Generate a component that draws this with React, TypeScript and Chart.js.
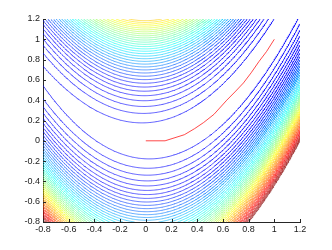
import React, { useEffect, useRef } from 'react';
import { Chart, registerables } from 'chart.js';

Chart.register(...registerables);

// Axis ranges and tick labels
const X_MIN = -0.8;
const X_MAX = 1.2;
const Y_MIN = -0.8;
const Y_MAX = 1.2;
const X_TICKS = [-0.8, -0.6, -0.4, -0.2, 0, 0.2, 0.4, 0.6, 0.8, 1, 1.2];
const Y_TICKS = [-0.8, -0.6, -0.4, -0.2, 0, 0.2, 0.4, 0.6, 0.8, 1, 1.2];

// Contour levels of the Rosenbrock surface
const CONTOUR_LEVELS = [
  4.15, 8.3, 12.45, 16.6, 20.75, 24.9, 29.05, 33.2, 37.35, 41.5,
  45.65, 49.8, 53.95, 58.1, 62.25, 66.4, 70.55, 74.7, 78.85, 83,
  87.15, 91.3, 95.45, 99.6, 103.75, 107.9, 112.05, 116.2, 120.35, 124.5,
  128.65, 132.8, 136.95, 141.1, 145.25, 149.4, 153.55, 157.7, 161.85, 166,
  170.15, 174.3, 178.45, 182.6, 186.75, 190.9, 195.05, 199.2, 203.35, 207.5,
];

// Optimisation path (red)
const PATH_X = [0, 0.15, 0.3, 0.38, 0.45, 0.53, 0.63, 0.7, 0.76, 0.82, 0.88, 0.94, 1.0];
const PATH_Y = [0, 0.0, 0.06, 0.12, 0.18, 0.26, 0.4, 0.49, 0.57, 0.67, 0.78, 0.88, 1.0];

const GRID_N = 300;

function surface(x: number, y: number) {
  const a = y - x * x;
  const b = 1 - x;
  return 100 * a * a + b * b;
}

function jet(t: number, alpha: number) {
  const c = (v: number) => Math.max(0, Math.min(1, v));
  const r = c(1.5 - Math.abs(4 * t - 3));
  const g = c(1.5 - Math.abs(4 * t - 2));
  let b = c(1.5 - Math.abs(4 * t - 1));
  if (t < 0.25) b = 1;
  return `rgba(${Math.round(r * 255)},${Math.round(g * 255)},${Math.round(b * 255)},${alpha})`;
}

type Pt = { x: number; y: number };

function contourLines(level: number, z: Float64Array, xs: number[], ys: number[]): Pt[] {
  const N = GRID_N;
  const W = N + 1;
  const edgePts = new Map<number, Pt>();
  const segs: [number, number][] = [];
  const edgeSegs = new Map<number, number[]>();
  const Hid = (i: number, j: number) => (j * N + i) * 2;
  const Vid = (i: number, j: number) => (j * W + i) * 2 + 1;
  const pointOf = (id: number): Pt => {
    let p = edgePts.get(id);
    if (p) return p;
    const k = id >> 1;
    if ((id & 1) === 0) {
      const j = Math.floor(k / N);
      const i = k % N;
      const va = z[j * W + i];
      const vb = z[j * W + i + 1];
      const t = (level - va) / (vb - va);
      p = { x: xs[i] + t * (xs[i + 1] - xs[i]), y: ys[j] };
    } else {
      const j = Math.floor(k / W);
      const i = k % W;
      const va = z[j * W + i];
      const vb = z[(j + 1) * W + i];
      const t = (level - va) / (vb - va);
      p = { x: xs[i], y: ys[j] + t * (ys[j + 1] - ys[j]) };
    }
    edgePts.set(id, p);
    return p;
  };
  const addSeg = (a: number, b: number) => {
    const idx = segs.length;
    segs.push([a, b]);
    for (const e of [a, b]) {
      const l = edgeSegs.get(e);
      if (l) l.push(idx);
      else edgeSegs.set(e, [idx]);
    }
  };
  for (let j = 0; j < N; j++) {
    for (let i = 0; i < N; i++) {
      const v0 = z[j * W + i];
      const v1 = z[j * W + i + 1];
      const v2 = z[(j + 1) * W + i + 1];
      const v3 = z[(j + 1) * W + i];
      const b0 = v0 > level, b1 = v1 > level, b2 = v2 > level, b3 = v3 > level;
      const bottom = b0 !== b1, right = b1 !== b2, top = b2 !== b3, left = b3 !== b0;
      const cnt = (bottom ? 1 : 0) + (right ? 1 : 0) + (top ? 1 : 0) + (left ? 1 : 0);
      if (cnt === 0) continue;
      const eB = Hid(i, j), eT = Hid(i, j + 1), eL = Vid(i, j), eR = Vid(i + 1, j);
      if (cnt === 2) {
        const es: number[] = [];
        if (bottom) es.push(eB);
        if (right) es.push(eR);
        if (top) es.push(eT);
        if (left) es.push(eL);
        addSeg(es[0], es[1]);
      } else {
        const center = (v0 + v1 + v2 + v3) / 4 > level;
        if (center === b0) {
          addSeg(eB, eR);
          addSeg(eT, eL);
        } else {
          addSeg(eL, eB);
          addSeg(eR, eT);
        }
      }
    }
  }
  const used = new Uint8Array(segs.length);
  const out: Pt[] = [];
  const nextSeg = (edge: number) => {
    const l = edgeSegs.get(edge);
    if (!l) return -1;
    for (const s of l) if (!used[s]) return s;
    return -1;
  };
  for (let s = 0; s < segs.length; s++) {
    if (used[s]) continue;
    used[s] = 1;
    const chain: number[] = [segs[s][0], segs[s][1]];
    let e = segs[s][1];
    for (;;) {
      const n = nextSeg(e);
      if (n < 0) break;
      used[n] = 1;
      e = segs[n][0] === e ? segs[n][1] : segs[n][0];
      chain.push(e);
    }
    e = segs[s][0];
    const back: number[] = [];
    for (;;) {
      const n = nextSeg(e);
      if (n < 0) break;
      used[n] = 1;
      e = segs[n][0] === e ? segs[n][1] : segs[n][0];
      back.push(e);
    }
    const full = back.reverse().concat(chain);
    for (const id of full) out.push(pointOf(id));
    out.push({ x: NaN, y: NaN });
  }
  return out;
}

const fontFamily = "'Liberation Sans', Arial, Helvetica, sans-serif";

export default function App() {
  const ref = useRef<HTMLCanvasElement | null>(null);
  useEffect(() => {
    if (!ref.current) return;
    const N = GRID_N;
    const xs: number[] = [];
    const ys: number[] = [];
    for (let i = 0; i <= N; i++) {
      xs.push(X_MIN + ((X_MAX - X_MIN) * i) / N);
      ys.push(Y_MIN + ((Y_MAX - Y_MIN) * i) / N);
    }
    const z = new Float64Array((N + 1) * (N + 1));
    for (let j = 0; j <= N; j++) for (let i = 0; i <= N; i++) z[j * (N + 1) + i] = surface(xs[i], ys[j]);

    const lo = CONTOUR_LEVELS[0];
    const hi = CONTOUR_LEVELS[CONTOUR_LEVELS.length - 1];
    const contourSets = CONTOUR_LEVELS.map((L) => ({
      label: `f=${L}`,
      data: contourLines(L, z, xs, ys),
      borderColor: jet((L - lo) / (hi - lo), 0.7),
      borderWidth: 0.9,
      pointRadius: 0,
      showLine: true,
      fill: false,
      tension: 0,
      spanGaps: false,
    }));

    const pathSet = {
      label: 'path',
      data: PATH_X.map((x, i) => ({ x, y: PATH_Y[i] })),
      borderColor: 'rgba(255,0,0,0.8)',
      borderWidth: 0.9,
      pointRadius: 0,
      showLine: true,
      fill: false,
      tension: 0,
    };

    const inwardTicks = {
      id: 'inwardTicks',
      afterDraw(chart: any) {
        const { ctx, chartArea: a, scales } = chart;
        const sx = scales.x;
        const sy = scales.y;
        ctx.save();
        ctx.strokeStyle = '#262626';
        ctx.lineWidth = 1;
        ctx.beginPath();
        for (const v of X_TICKS) {
          const px = Math.round(sx.getPixelForValue(v)) + 0.5;
          ctx.moveTo(px, a.bottom);
          ctx.lineTo(px, a.bottom - 3);
        }
        for (const v of Y_TICKS) {
          const py = Math.round(sy.getPixelForValue(v)) + 0.5;
          ctx.moveTo(a.left, py);
          ctx.lineTo(a.left + 3, py);
        }
        ctx.stroke();
        ctx.restore();
      },
    };

    const fmt = (v: any) => String(Math.round(Number(v) * 10) / 10);

    const chart = new Chart(ref.current, {
      type: 'scatter',
      data: { datasets: [pathSet as any, ...(contourSets as any)] },
      options: {
        animation: false,
        responsive: true,
        maintainAspectRatio: false,
        devicePixelRatio: 1,
        events: [],
        layout: { padding: { top: 19, right: 32, left: 0, bottom: 0 } },
        plugins: { legend: { display: false }, tooltip: { enabled: false } },
        scales: {
          x: {
            type: 'linear',
            min: X_MIN,
            max: X_MAX,
            afterBuildTicks: (s: any) => {
              s.ticks = X_TICKS.map((value) => ({ value }));
            },
            afterFit: (s: any) => {
              s.height = 28;
            },
            grid: { display: false, drawTicks: false, tickLength: 0 },
            border: { display: true, color: '#262626', width: 1 },
            ticks: {
              autoSkip: false,
              maxRotation: 0,
              padding: 2,
              color: '#1a1a1a',
              font: { family: fontFamily, size: 9 },
              callback: fmt,
            },
          },
          y: {
            type: 'linear',
            min: Y_MIN,
            max: Y_MAX,
            afterBuildTicks: (s: any) => {
              s.ticks = Y_TICKS.map((value) => ({ value }));
            },
            afterFit: (s: any) => {
              s.width = 43;
            },
            grid: { display: false, drawTicks: false, tickLength: 0 },
            border: { display: true, color: '#262626', width: 1 },
            ticks: {
              autoSkip: false,
              padding: 3,
              color: '#1a1a1a',
              font: { family: fontFamily, size: 9 },
              callback: fmt,
            },
          },
        },
      } as any,
      plugins: [inwardTicks],
    });
    return () => chart.destroy();
  }, []);

  return (
    <div style={{ position: 'absolute', left: 0, top: 0, width: 332, height: 250, background: '#fff' }}>
      <canvas ref={ref} />
    </div>
  );
}
